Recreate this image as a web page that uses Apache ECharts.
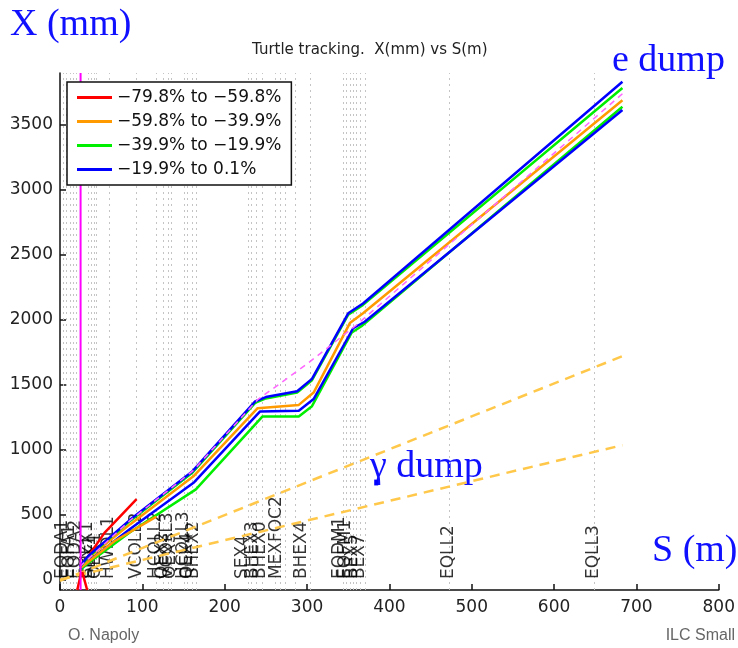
<!DOCTYPE html>
<html><head><meta charset="utf-8">
<script src="https://cdn.jsdelivr.net/npm/echarts@6/dist/echarts.min.js"></script>
<style>html,body{margin:0;padding:0;background:#fff}#c{width:738px;height:648px}</style>
</head><body><div id="c"></div>
<script>
// ---- data ----
const legendNames = ['\u221279.8% to \u221259.8%', '\u221259.8% to \u221239.9%', '\u221239.9% to \u221219.9%', '\u221219.9% to 0.1%'];
const xTicks = [0, 100, 200, 300, 400, 500, 600, 700, 800];
const yTicks = [0, 500, 1000, 1500, 2000, 2500, 3000, 3500];

const redUpper    = [[30,140],[54,360],[93,620]];
const redLowerA   = [[26,60],[21,-80]];
const redLowerB   = [[27,60],[33,-80]];
const orangeUpper = [[24,90],[34,165],[85,425],[162,795],[240,1320],[290,1345],[308,1440],[352,1975],[368,2050],[683,3690]];
const orangeLower = [[26,95],[66,295],[117,485]];
const greenUpper  = [[24,95],[34,172],[85,452],[161,825],[237,1360],[250,1395],[288,1440],[306,1535],[350,2040],[368,2115],[683,3785]];
const greenLower  = [[24,70],[34,125],[85,365],[165,695],[246,1256],[290,1256],[306,1335],[354,1900],[366,1950],[683,3640]];
const blueUpper   = [[24,100],[34,180],[85,460],[161,835],[237,1372],[250,1405],[288,1450],[306,1545],[350,2050],[368,2125],[683,3833]];
const blueLower   = [[24,80],[34,140],[85,390],[163,750],[243,1295],[290,1300],[308,1390],[356,1935],[370,1985],[683,3615]];
const blueSpot    = [[384,725],[384,770]];
const nominal     = [[24,100],[85,455],[161,835],[240,1385],[300,1660],[360,1960],[683,3740]];
const ipLine      = [[25,-80],[25,3900]];
const gammaUpper  = [[0,-10],[683,1720]];
const gammaLower  = [[0,0],[683,1035]];

const elemPos   = [4, 12, 20, 34, 38, 44, 60, 93, 117, 125, 131, 135, 151, 155, 163, 222, 234, 244, 264, 294, 340, 348, 356, 365, 473, 649];
const elemNames = ['EQDA1','EQFA1','EQDA2','BHEX1','SEX1','QEX1','HWDL1','VCOLL2','HCOLL2','QEX2','VCOLL3','QEX3','HCOLL3','QEX4','BHEX2','SEX4','BHEX3','BHEX0','MEXFOC2','BHEX4','EQDM1','EQFM1','BEX5','BEX7','EQLL2','EQLL3'];
const gridPos   = [4,8,12,16,20,34,38,42,44,60,93,117,125,131,135,151,155,161,165,228,232,238,245,262,268,274,286,304,344,348,352,356,360,365,371,473,649];

const RED = '#ff0000', ORANGE = '#ff9a00', GREEN = '#00ee00', BLUE = '#0000ff';

function line(name, data, color, extra) {
  return Object.assign({
    type: 'line', name: name, data: data, showSymbol: false, symbol: 'none',
    lineStyle: { color: color, width: 2.5 }, itemStyle: { color: color },
    z: 3, silent: true, animation: false
  }, extra || {});
}

const chart = echarts.init(document.getElementById('c'), null, { renderer: 'canvas' });
chart.setOption({
  animation: false,
  backgroundColor: '#ffffff',
  title: {
    text: 'Turtle tracking.  X(mm) vs S(m)',
    left: 247, top: 38,
    textStyle: { fontFamily: 'DejaVu Sans', fontSize: 15, fontWeight: 'normal', color: '#222' }
  },
  graphic: [
    { type: 'text', left: 10, top: 6, style: { text: 'X (mm)', font: '38px "Liberation Serif"', fill: '#1010ff' } },
    { type: 'text', left: 612, top: 42, style: { text: 'e dump', font: '38px "Liberation Serif"', fill: '#1010ff' } },
    { type: 'text', left: 370, top: 448, style: { text: '\u03b3 dump', font: '38px "Liberation Serif"', fill: '#1010ff' } },
    { type: 'text', left: 652, top: 532, style: { text: 'S (m)', font: '38px "Liberation Serif"', fill: '#1010ff' } },
    { type: 'text', left: 68, top: 628, style: { text: 'O. Napoly', font: '16px "Liberation Sans"', fill: '#666' } },
    { type: 'text', right: 3, top: 628, style: { text: 'ILC Small', font: '16px "Liberation Sans"', fill: '#666' } }
  ],
  legend: {
    data: legendNames,
    orient: 'vertical', left: 67, top: 82,
    icon: 'rect', itemWidth: 35, itemHeight: 3, itemGap: 7,
    padding: [7, 10, 7, 10],
    backgroundColor: '#fff', borderColor: '#111', borderWidth: 1.5,
    textStyle: { fontFamily: 'DejaVu Sans', fontSize: 17, color: '#111' },
    selectedMode: false, z: 10
  },
  grid: { left: 60, right: 18, top: 73, bottom: 58, containLabel: false },
  xAxis: {
    type: 'value', min: 0, max: 800, interval: 100,
    axisLine: { show: true, onZero: false, lineStyle: { color: '#111', width: 1.5 } },
    axisTick: { show: true, inside: true, length: 6, lineStyle: { color: '#111', width: 1.5 } },
    axisLabel: { fontFamily: 'DejaVu Sans', fontSize: 17, color: '#222', margin: 9,
      customValues: xTicks, formatter: v => String(v) },
    splitLine: { show: false }
  },
  yAxis: {
    type: 'value', min: -80, max: 3900,
    axisLine: { show: true, onZero: false, lineStyle: { color: '#111', width: 1.5 } },
    axisTick: { show: true, inside: true, length: 6, customValues: yTicks, lineStyle: { color: '#111', width: 1.5 } },
    axisLabel: { fontFamily: 'DejaVu Sans', fontSize: 17, color: '#222', margin: 7, customValues: yTicks,
      formatter: v => String(v) },
    splitLine: { show: false }
  },
  series: [
    {
      type: 'scatter', name: 'elements', symbolSize: 1, symbol: 'circle',
      itemStyle: { color: 'rgba(0,0,0,0)' }, silent: true, z: 2,
      data: elemPos.map((s, i) => ({ value: [s, 0], name: elemNames[i] })),
      label: { show: true, formatter: '{b}', rotate: 90, position: [0, 0], align: 'left', verticalAlign: 'middle',
        fontFamily: 'DejaVu Sans', fontSize: 17, color: '#000' },
      markLine: {
        silent: true, symbol: 'none', animation: false, z: 1,
        label: { show: false },
        lineStyle: { type: [2, 4], color: '#c4c4c4', width: 1 },
        data: gridPos.map(s => ({ xAxis: s }))
      }
    },
    line('gammaU', gammaUpper, '#ffc84a', { lineStyle: { color: '#ffc84a', width: 2.5, type: [10, 7] } }),
    line('gammaL', gammaLower, '#ffc84a', { lineStyle: { color: '#ffc84a', width: 2.5, type: [10, 7] } }),
    line(legendNames[0], redUpper, RED),
    line(legendNames[0], redLowerA, RED),
    line(legendNames[0], redLowerB, RED),
    line(legendNames[2], greenLower, GREEN),
    line(legendNames[3], blueLower, BLUE),
    line(legendNames[1], orangeLower, ORANGE),
    line(legendNames[1], orangeUpper, ORANGE),
    line(legendNames[2], greenUpper, GREEN),
    line(legendNames[3], blueUpper, BLUE),
    line(legendNames[3], blueSpot, BLUE, { lineStyle: { color: BLUE, width: 4 } }),
    line('nominal', nominal, '#ff66ff', { lineStyle: { color: '#ff66ff', width: 1.5, type: [6, 5] }, z: 4 }),
    line('ip', ipLine, '#ff00ff', { lineStyle: { color: '#ff00ff', width: 2 }, z: 4 })
  ]
});
</script>
</body></html>
